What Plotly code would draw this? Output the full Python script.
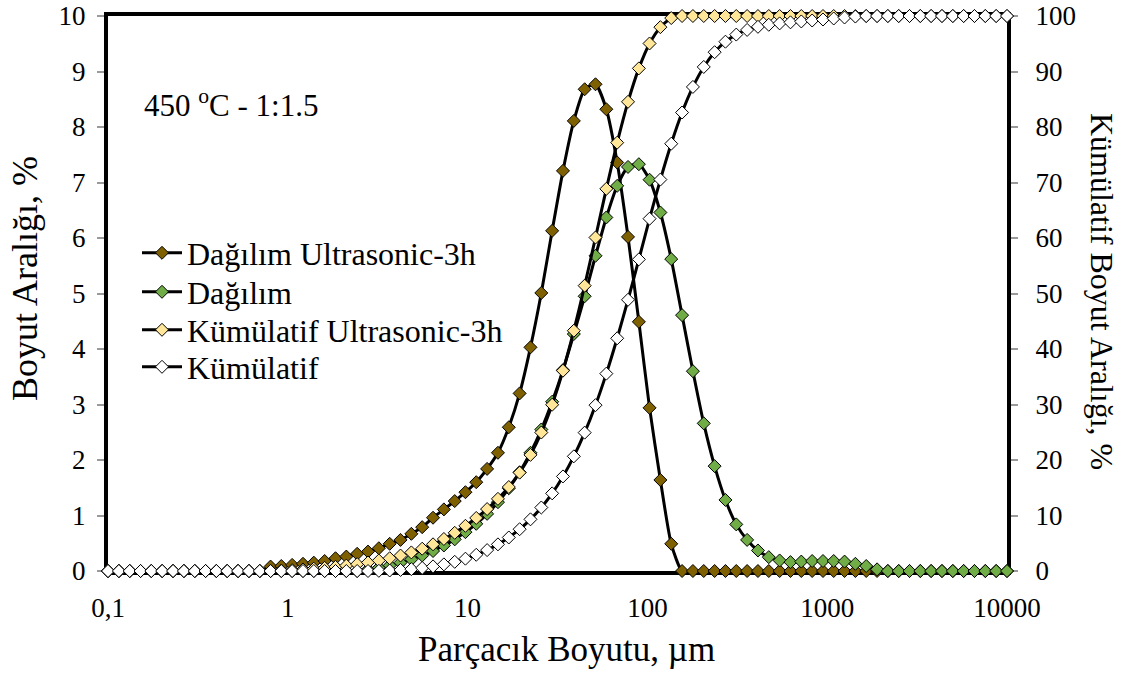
import plotly.graph_objects as go

# Particle size bins (µm)
sizes = [0.1, 0.1149, 0.132, 0.1517, 0.1742, 0.2002, 0.23, 0.2642, 0.3036, 0.3488,
         0.4007, 0.4604, 0.529, 0.6077, 0.6982, 0.8022, 0.9202, 1.057, 1.215, 1.395,
         1.603, 1.842, 2.116, 2.431, 2.793, 3.209, 3.687, 4.236, 4.867, 5.591,
         6.424, 7.38, 8.479, 9.726, 11.17, 12.84, 14.75, 16.95, 19.47, 22.37,
         25.7, 29.53, 33.92, 38.98, 44.78, 51.45, 59.11, 67.91, 78.02, 89.64,
         102.8, 118.1, 135.7, 155.9, 179.1, 205.8, 236.5, 271.7, 312.1, 358.6,
         412.0, 473.3, 543.8, 624.8, 717.8, 824.7, 947.5, 1087, 1249, 1435,
         1648, 1894, 2174, 2498, 2870, 3296, 3785, 4348, 4995, 5739,
         6594, 7576, 8704, 10000]

dagilim_us = ([0.0] * 15 +
              [0.08, 0.09, 0.11, 0.13, 0.15, 0.18, 0.23, 0.26, 0.31, 0.35,
               0.41, 0.49, 0.56, 0.67, 0.79, 0.96, 1.11, 1.26, 1.42, 1.60,
               1.84, 2.13, 2.59, 3.20, 4.03, 5.01, 6.13, 7.21, 8.11, 8.68,
               8.77, 8.32, 7.36, 6.02, 4.49, 2.94, 1.64, 0.49] +
              [0.0] * 31)

dagilim = ([0.0] * 24 +
           [0.03, 0.06, 0.10, 0.15, 0.21, 0.28, 0.36, 0.46, 0.57, 0.70,
            0.85, 1.03, 1.24, 1.49, 1.78, 2.13, 2.55, 3.05, 3.62, 4.27,
            4.95, 5.68, 6.37, 6.94, 7.28, 7.33, 7.05, 6.46, 5.62, 4.61,
            3.60, 2.66, 1.89, 1.28, 0.84, 0.56, 0.37, 0.25, 0.19, 0.16,
            0.17, 0.18, 0.18, 0.18, 0.17, 0.13, 0.09, 0.03] +
           [0.0] * 12)

kumulatif_us = ([0.0] * 16 +
                [0.08, 0.17, 0.28, 0.41, 0.56, 0.74, 0.97, 1.23, 1.54, 1.89,
                 2.30, 2.79, 3.35, 4.02, 4.81, 5.77, 6.88, 8.14, 9.56, 11.16,
                 13.00, 15.13, 17.72, 20.92, 24.95, 29.96, 36.09, 43.30, 51.41, 60.09,
                 68.86, 77.18, 84.54, 90.56, 95.05, 97.99, 99.63] +
                [100.0] * 31)

kumulatif = ([0.0] * 25 +
             [0.03, 0.09, 0.19, 0.34, 0.55, 0.83, 1.19, 1.65, 2.22, 2.92,
              3.77, 4.80, 6.04, 7.53, 9.31, 11.44, 13.99, 17.04, 20.66, 24.93,
              29.88, 35.56, 41.93, 48.87, 56.15, 63.48, 70.53, 76.99, 82.61, 87.22,
              90.82, 93.48, 95.37, 96.65, 97.49, 98.05, 98.42, 98.67, 98.86, 99.02,
              99.19, 99.37, 99.55, 99.73, 99.90] +
             [100.0] * 14)

x_tickvals = [0.1, 1, 10, 100, 1000, 10000]
x_ticktext = ["0,1", "1", "10", "100", "1000", "10000"]

FONT = "Liberation Serif"
TICK_FS = 27
LEG_FS = 32

series = [
    ("Dağılım Ultrasonic-3h", dagilim_us, "#7F6000", "y", "legend"),
    ("Dağılım", dagilim, "#70AD47", "y", "legend2"),
    ("Kümülatif Ultrasonic-3h", kumulatif_us, "#FFE699", "y2", "legend3"),
    ("Kümülatif", kumulatif, "#FFFFFF", "y2", "legend4"),
]

fig = go.Figure()
for name, vals, col, ax, leg in series:
    fig.add_trace(go.Scatter(
        x=sizes, y=vals, name=name, yaxis=ax, mode="lines+markers",
        line=dict(color="black", width=3, shape="spline", smoothing=0.6),
        marker=dict(symbol="diamond", size=10, color=col,
                    line=dict(color="black", width=1)),
        cliponaxis=False, legend=leg,
    ))

def leg_box(y_px):
    return dict(x=(137 - 108) / 899, y=(571 - y_px) / 555, xanchor="left",
                yanchor="middle", bgcolor="rgba(0,0,0,0)",
                font=dict(family=FONT, size=LEG_FS), itemwidth=40)

fig.update_layout(
    width=1128, height=673,
    margin=dict(l=108, r=121, t=16, b=102, autoexpand=False),
    paper_bgcolor="white", plot_bgcolor="white",
    font=dict(family=FONT, size=TICK_FS, color="black"),
    showlegend=True,
    legend=leg_box(253), legend2=leg_box(292), legend3=leg_box(330), legend4=leg_box(367),
    xaxis=dict(type="log", range=[-1, 4], tickvals=x_tickvals, ticktext=x_ticktext,
               showline=True, linecolor="black", linewidth=4, mirror=True,
               showgrid=False, zeroline=False, ticks="", ticklabelstandoff=10,
               automargin=False, layer="below traces"),
    yaxis=dict(range=[0, 10], dtick=1, showline=True, linecolor="black", linewidth=4,
               showgrid=False, zeroline=False, ticks="outside", ticklen=7,
               tickcolor="#9a9a9a", tickwidth=1.5, ticklabelstandoff=6,
               automargin=False, layer="below traces"),
    yaxis2=dict(range=[0, 100], dtick=10, overlaying="y", side="right",
                showline=True, linecolor="black", linewidth=4,
                showgrid=False, zeroline=False, ticks="outside", ticklen=7,
                tickcolor="#9a9a9a", tickwidth=1.5, ticklabelstandoff=12,
                automargin=False, layer="below traces"),
    annotations=[
        dict(text="450 <sup>o</sup>C - 1:1.5", xref="paper", yref="paper",
             x=0.038, y=0.843, xanchor="left", yanchor="middle", showarrow=False,
             font=dict(family=FONT, size=31)),
        dict(text="Boyut Aralığı, %", xref="paper", yref="paper",
             x=-0.0923, y=(571 - 279) / 555, textangle=-90, showarrow=False,
             xanchor="center", yanchor="middle", font=dict(family=FONT, size=36)),
        dict(text="Kümülatif Boyut Aralığı, %", xref="paper", yref="paper",
             x=1.1057, y=(571 - 291) / 555, textangle=90, showarrow=False,
             xanchor="center", yanchor="middle", font=dict(family=FONT, size=32)),
        dict(text="Parçacık Boyutu, µm", xref="paper", yref="paper",
             x=(566 - 108) / 899, y=-0.142, showarrow=False,
             xanchor="center", yanchor="middle", font=dict(family=FONT, size=35)),
    ],
)

fig.write_html("out.html")
